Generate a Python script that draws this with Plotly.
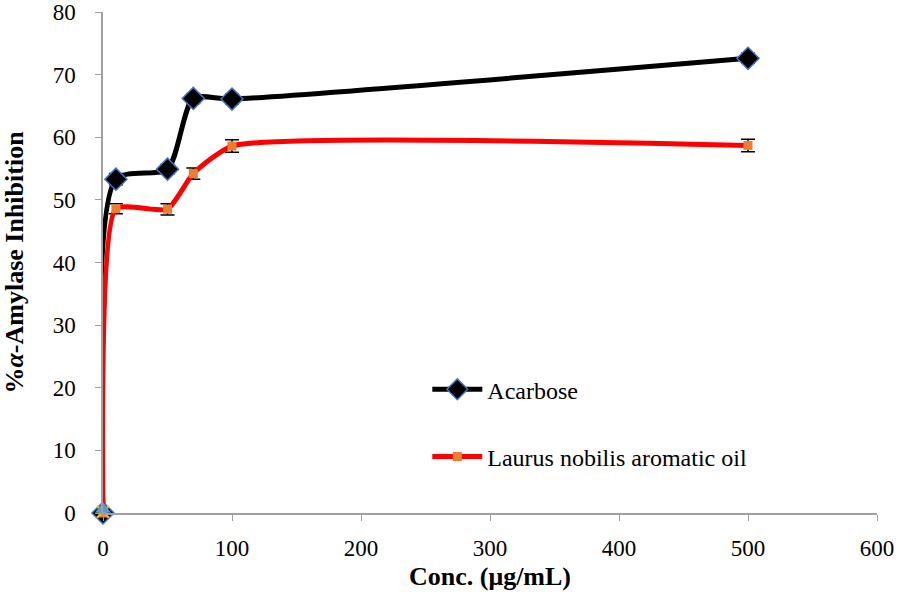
import plotly.graph_objects as go

conc = [0, 10, 50, 70, 100, 500]
acarbose = [0, 53.3, 54.9, 66.2, 66.1, 72.6]
acarbose_err = [0.5, 0.9, 0.8, 0.8, 0.8, 0.8]
laurus = [0, 48.6, 48.5, 54.2, 58.6, 58.7]
laurus_err = [0.5, 0.8, 0.9, 0.9, 1.0, 1.0]

font = "Liberation Serif"

fig = go.Figure()
fig.add_trace(go.Scatter(
    x=conc, y=acarbose, name="Acarbose", legendgroup="a",
    mode="lines+markers",
    line=dict(color="black", width=5, shape="spline", smoothing=0.7),
    marker=dict(symbol="diamond", size=17, color="black",
                line=dict(color="#4472C4", width=1.5)),
    error_y=dict(type="data", array=acarbose_err, color="black",
                 thickness=1.5, width=7),
))
fig.add_trace(go.Scatter(
    x=conc, y=laurus, name="Laurus nobilis aromatic oil", legendgroup="b",
    mode="lines+markers",
    line=dict(color="red", width=5, shape="spline", smoothing=0.5),
    marker=dict(symbol="square", size=9, color="#ED7D31"),
    error_y=dict(type="data", array=laurus_err, color="black",
                 thickness=1.5, width=7),
))
# stray markers sitting at the origin
fig.add_trace(go.Scatter(x=[0], y=[0.2], mode="markers", showlegend=False,
                         marker=dict(symbol="x-thin", size=12,
                                     line=dict(color="#FFC000", width=2))))
fig.add_trace(go.Scatter(x=[0], y=[0.6], mode="markers", showlegend=False,
                         marker=dict(symbol="triangle-up", size=14, color="#5B9BD5")))

axis_style = dict(showgrid=False, zeroline=False, automargin=False,
                  showline=True, linecolor="#A0A0A0", linewidth=1.5,
                  ticks="outside", tickcolor="#A0A0A0", ticklen=6,
                  tickfont=dict(size=23), ticklabeloverflow="allow")

fig.update_layout(
    width=898, height=595,
    paper_bgcolor="white", plot_bgcolor="white",
    margin=dict(l=103, r=21, t=12, b=82),
    font=dict(family=font, size=22, color="black"),
    showlegend=True,
    legend=dict(x=0.419, y=0.291, xanchor="left", yanchor="top",
                bgcolor="rgba(0,0,0,0)", font=dict(size=24),
                tracegroupgap=33, itemwidth=50),
    xaxis=dict(range=[0, 600], dtick=100, ticklabelstandoff=8,
               title=dict(text="<b>Conc. (μg/mL)</b>", standoff=6,
                          font=dict(size=26)),
               **axis_style),
    yaxis=dict(range=[0, 80], dtick=10, ticklabelstandoff=15,
               title=dict(text="<b>%<i>α</i>-Amylase Inhibition</b>", standoff=24,
                          font=dict(size=26)),
               **axis_style),
)
fig.update_traces(cliponaxis=False)

# drop the page's default body margin so the figure sits at the top-left corner
fig.write_html("out.html", config={"displayModeBar": False},
               post_script="document.body.style.margin='0';")
